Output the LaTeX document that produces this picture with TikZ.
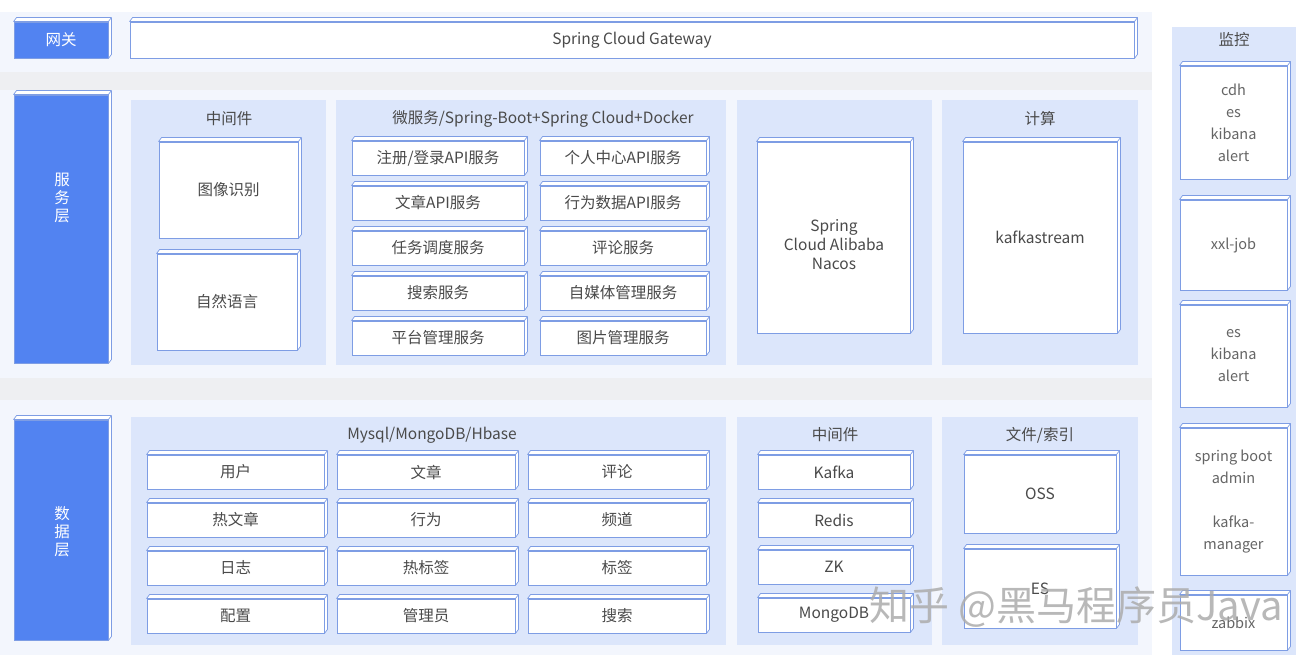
\documentclass[tikz,border=0pt]{standalone}
\usepackage{fontspec}
\setmainfont{Noto Sans CJK SC}
\usetikzlibrary{positioning}
\definecolor{bandc}{HTML}{F3F6FD}
\definecolor{sepc}{HTML}{EEEFF2}
\definecolor{panelc}{HTML}{DCE6FB}
\definecolor{labc}{HTML}{5283F1}
\definecolor{edgec}{HTML}{7E9DE4}
\definecolor{txtc}{HTML}{4A4A4A}

\begin{document}
\begin{tikzpicture}[x=1pt, y=-1pt,
  panel/.style={fill=panelc, inner sep=0pt},
  box/.style={draw=edgec, fill=white, line width=0.9pt, text=txtc, align=center, inner sep=0pt, font=\fontsize{15.5}{18}\selectfont},
  lat/.style={font=\fontsize{15.5}{19}\selectfont},
  lab/.style={box, fill=labc, text=white},
  mon/.style={box, text=txtc!85, font=\fontsize{14.5}{22}\selectfont},
  ttl/.style={text=txtc, align=center, font=\fontsize{15.5}{18}\selectfont},
  face/.style={draw=edgec, fill=white, line width=0.7pt, line join=round}]

  \useasboundingbox (0,0) rectangle (1306,662);

  % Hintergrund der Schichten
  \fill[bandc] (0,12) rectangle (1152,72);
  \fill[sepc] (0,72) rectangle (1152,90);
  \fill[bandc] (0,90) rectangle (1152,378);
  \fill[sepc] (0,378) rectangle (1152,400);
  \fill[bandc] (0,400) rectangle (1152,655);

  % Felder (hellblau)
  \node[panel, minimum width=195, minimum height=265] (PMID) at (228.5,232.5) {};
  \node[panel, minimum width=390, minimum height=265] (PMS) at (531,232.5) {};
  \node[panel, minimum width=195, minimum height=265] (PNAC) at (834.5,232.5) {};
  \node[panel, minimum width=196, minimum height=265] (PCAL) at (1040,232.5) {};
  \node[panel, minimum width=595, minimum height=228] (PDB) at (428.5,531) {};
  \node[panel, minimum width=195, minimum height=228] (PMW) at (834.5,531) {};
  \node[panel, minimum width=196, minimum height=228] (PFILE) at (1040,531) {};
  \node[panel, minimum width=124, minimum height=628] (PMON) at (1234,341) {};

  % Titel der Felder
  \node[ttl] (TMID) at (229,119) {中间件};
  \node[ttl, lat] (TMS) at (543,119) {微服务/Spring-Boot+Spring Cloud+Docker};
  \node[ttl] (TCAL) at (1040,119) {计算};
  \node[ttl, lat] (TDB) at (432,435) {Mysql/MongoDB/Hbase};
  \node[ttl] (TMW) at (835,435) {中间件};
  \node[ttl] (TFILE) at (1040,435) {文件/索引};
  \node[ttl] (TMON) at (1234,40) {监控};

  % Schichtnamen (blau)
  \node[lab, minimum width=94, minimum height=36] (GWL) at (61,40) {网关};
  \node[lab, minimum width=94, minimum height=268] (SVL) at (61,229) {};
  \node[ttl, text=white] (SVT) at (62,198) {服\\务\\层};
  \node[lab, minimum width=94, minimum height=220] (DBL) at (61,530) {};
  \node[ttl, text=white] (DBT) at (62,532) {数\\据\\层};

  % Gateway
  \node[box, lat, minimum width=1004, minimum height=36] (GW) at (632,40) {Spring Cloud Gateway};

  % Dienstschicht
  \node[box, minimum width=139, minimum height=96] (IMG) at (228.5,190) {图像识别};
  \node[box, minimum width=140, minimum height=96] (NLP) at (227,302) {自然语言};
  \node[box, minimum width=172, minimum height=34] (M1) at (438,158) {注册/登录API服务};
  \node[box, minimum width=166, minimum height=34] (M2) at (623,158) {个人中心API服务};
  \node[box, minimum width=172, minimum height=34] (M3) at (438,203) {文章API服务};
  \node[box, minimum width=166, minimum height=34] (M4) at (623,203) {行为数据API服务};
  \node[box, minimum width=172, minimum height=34] (M5) at (438,248) {任务调度服务};
  \node[box, minimum width=166, minimum height=34] (M6) at (623,248) {评论服务};
  \node[box, minimum width=172, minimum height=34] (M7) at (438,293) {搜索服务};
  \node[box, minimum width=166, minimum height=34] (M8) at (623,293) {自媒体管理服务};
  \node[box, minimum width=172, minimum height=34] (M9) at (438,338) {平台管理服务};
  \node[box, minimum width=166, minimum height=34] (M10) at (623,338) {图片管理服务};
  \node[box, minimum width=153, minimum height=191] (NAC) at (833.5,237.5) {};
  \node[ttl, lat] (NACT) at (834,245) {Spring\\Cloud Alibaba\\Nacos};
  \node[box, lat, minimum width=154, minimum height=191] (KS) at (1040,237.5) {kafkastream};

  % Datenschicht
  \node[box, minimum width=177, minimum height=34] (D1) at (235.5,472) {用户};
  \node[box, minimum width=178, minimum height=34] (D2) at (426,472) {文章};
  \node[box, minimum width=178, minimum height=34] (D3) at (617,472) {评论};
  \node[box, minimum width=177, minimum height=34] (D4) at (235.5,520) {热文章};
  \node[box, minimum width=178, minimum height=34] (D5) at (426,520) {行为};
  \node[box, minimum width=178, minimum height=34] (D6) at (617,520) {频道};
  \node[box, minimum width=177, minimum height=34] (D7) at (235.5,568) {日志};
  \node[box, minimum width=178, minimum height=34] (D8) at (426,568) {热标签};
  \node[box, minimum width=178, minimum height=34] (D9) at (617,568) {标签};
  \node[box, minimum width=177, minimum height=34] (D10) at (235.5,616) {配置};
  \node[box, minimum width=178, minimum height=34] (D11) at (426,616) {管理员};
  \node[box, minimum width=178, minimum height=34] (D12) at (617,616) {搜索};
  \node[box, lat, minimum width=152, minimum height=34] (K1) at (834,472) {Kafka};
  \node[box, lat, minimum width=152, minimum height=34] (K2) at (834,520) {Redis};
  \node[box, lat, minimum width=152, minimum height=34] (K3) at (834,567) {ZK};
  \node[box, lat, minimum width=152, minimum height=34] (K4) at (834,615) {MongoDB};
  \node[box, lat, minimum width=152, minimum height=78] (OSS) at (1040,494) {OSS};
  \node[box, lat, minimum width=152, minimum height=79] (ES) at (1040,588.5) {ES};

  % Monitoring
  \node[mon, minimum width=107, minimum height=113] (MO1) at (1233.5,122.5) {cdh\\es\\kibana\\alert};
  \node[mon, minimum width=107, minimum height=90] (MO2) at (1233.5,245) {xxl-job};
  \node[mon, minimum width=107, minimum height=102] (MO3) at (1233.5,356) {es\\kibana\\alert};
  \node[mon, minimum width=107, minimum height=147] (MO4) at (1233.5,501.5) {spring boot\\admin\\[22pt]kafka-\\manager};
  \node[mon, minimum width=107, minimum height=55] (MO5) at (1233.5,622.5) {zabbix};

  % 3D-Kanten
  \foreach \n in {GWL,SVL,DBL,GW,IMG,NLP,M1,M2,M3,M4,M5,M6,M7,M8,M9,M10,NAC,KS,D1,D2,D3,D4,D5,D6,D7,D8,D9,D10,D11,D12,K1,K2,K3,K4,OSS,ES,MO1,MO2,MO3,MO4,MO5}
    \draw[face] (\n.north west) -- ++(3,-4) -- ([shift={(3,-4)}]\n.north east) -- ([shift={(3,-4)}]\n.south east) -- (\n.south east) -- (\n.north east) -- cycle (\n.north east) -- ++(3,-4);

  % Wasserzeichen
  \node[anchor=west, text=gray!65, opacity=0.85, font=\fontsize{40}{42}\selectfont] (WM) at (866,607) {知乎 @黑马程序员Java};

\end{tikzpicture}
\end{document}
